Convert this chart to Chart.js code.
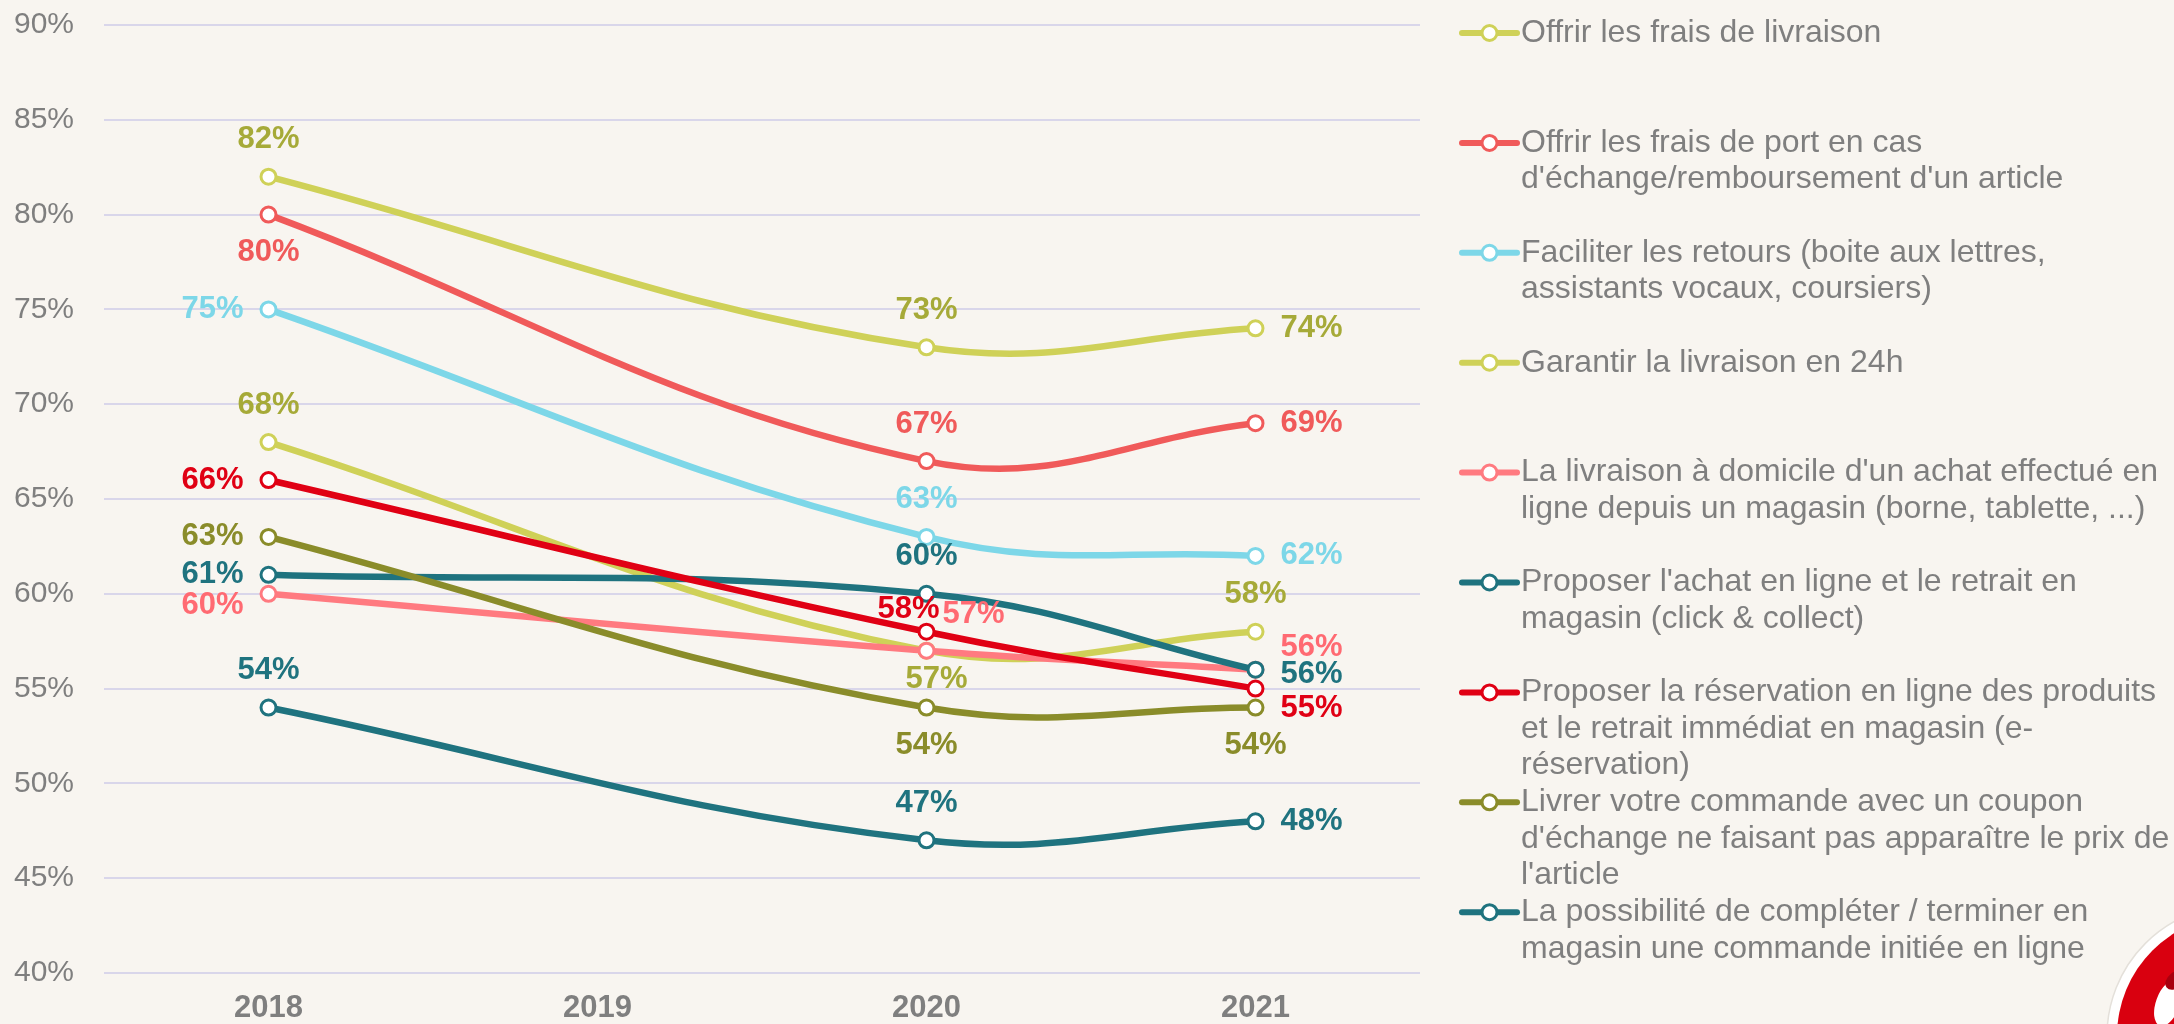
<!DOCTYPE html>
<html>
<head>
<meta charset="utf-8">
<script src="https://cdn.jsdelivr.net/npm/chart.js@4.4.0/dist/chart.umd.min.js"></script>
<style>
html,body{margin:0;padding:0;background:#F8F5F0;}
canvas{display:block;}
</style>
</head>
<body>
<canvas id="c" width="2174" height="1024"></canvas>
<script>
// ---------- DATA ----------
const years = ['2018', '2019', '2020', '2021'];
const yTickValues = [40, 45, 50, 55, 60, 65, 70, 75, 80, 85, 90];

const offrirFraisLivraison   = [82, null, 73, 74];
const offrirFraisPort        = [80, null, 67, 69];
const faciliterRetours       = [75, null, 63, 62];
const garantirLivraison24h   = [68, null, 57, 58];
const livraisonDomicile      = [60, null, 57, 56];
const clickCollect           = [61, null, 60, 56];
const eReservation           = [66, null, 58, 55];
const couponEchange          = [63, null, 54, 54];
const completerMagasin       = [54, null, 47, 48];

const seriesNames = [
  ["Offrir les frais de livraison"],
  ["Offrir les frais de port en cas", "d'échange/remboursement d'un article"],
  ["Faciliter les retours (boite aux lettres,", "assistants vocaux, coursiers)"],
  ["Garantir la livraison en 24h"],
  ["La livraison à domicile d'un achat effectué en", "ligne depuis un magasin (borne, tablette, ...)"],
  ["Proposer l'achat en ligne et le retrait en", "magasin (click & collect)"],
  ["Proposer la réservation en ligne des produits", "et le retrait immédiat en magasin (e-", "réservation)"],
  ["Livrer votre commande avec un coupon", "d'échange ne faisant pas apparaître le prix de", "l'article"],
  ["La possibilité de compléter / terminer en", "magasin une commande initiée en ligne"]
];

const seriesValues = [
  offrirFraisLivraison, offrirFraisPort, faciliterRetours, garantirLivraison24h,
  livraisonDomicile, clickCollect, eReservation, couponEchange, completerMagasin
];

// ---------- STYLE ----------
const lineColors = ['#CFD158', '#F05A5A', '#7DD7E8', '#CFD158', '#FF7A80', '#1F737F', '#E00014', '#8A8C2A', '#1F737F'];
const labelColors = ['#A6AA38', '#F05A5A', '#7DD7E8', '#A6AA38', '#FF6A72', '#1F737F', '#E00014', '#8A8C2A', '#1F737F'];
// label placement per point (T=above, B=below, L=left, R=right, or custom)
const labelPlacement = [
  ['T', null, 'T', 'R'],
  ['B', null, 'T', 'R'],
  ['L', null, 'T', 'R'],
  ['T', null, {a: 'center', dx: 10, dy: 29}, 'T'],
  [{a: 'right', dx: -25, dy: 12}, null, {a: 'center', dx: 47, dy: -36}, {a: 'left', dx: 25, dy: -22}],
  ['L', null, 'T', {a: 'left', dx: 25, dy: 5}],
  ['L', null, {a: 'center', dx: -18, dy: -22}, {a: 'left', dx: 25, dy: 20}],
  ['L', null, 'B', 'B'],
  ['T', null, 'T', 'R']
];
const FONT = "'Liberation Sans', Arial, sans-serif";
const GRAY = '#7F7F7F';

const placementMap = {
  T: {a: 'center', dx: 0, dy: -37},
  B: {a: 'center', dx: 0, dy: 38},
  L: {a: 'right', dx: -25, dy: 0},
  R: {a: 'left', dx: 25, dy: 0}
};

const bgPlugin = {
  id: 'bg',
  beforeDraw(chart) {
    const c = chart.ctx;
    c.save();
    c.fillStyle = '#F8F5F0';
    c.fillRect(0, 0, chart.width, chart.height);
    c.restore();
  }
};

const labelPlugin = {
  id: 'valueLabels',
  afterDatasetsDraw(chart) {
    const c = chart.ctx;
    c.save();
    c.font = 'bold 31px ' + FONT;
    c.textBaseline = 'middle';
    chart.data.datasets.forEach((ds, i) => {
      const meta = chart.getDatasetMeta(i);
      meta.data.forEach((pt, j) => {
        const v = ds.data[j];
        if (v === null || v === undefined) return;
        let p = labelPlacement[i][j];
        if (!p) return;
        if (typeof p === 'string') p = placementMap[p];
        c.fillStyle = labelColors[i];
        c.textAlign = p.a;
        c.fillText(v + '%', pt.x + p.dx, pt.y + p.dy);
      });
    });
    c.restore();
  }
};

const legendPlugin = {
  id: 'sideLegend',
  afterDraw(chart) {
    const c = chart.ctx;
    const x0 = chart.chartArea.right + 42;
    const startY = 33, step = 109.9, lineH = 36.5;
    c.save();
    seriesNames.forEach((lines, i) => {
      const y = startY + i * step;
      c.strokeStyle = lineColors[i];
      c.lineWidth = 6;
      c.lineCap = 'round';
      c.beginPath();
      c.moveTo(x0, y);
      c.lineTo(x0 + 55, y);
      c.stroke();
      c.beginPath();
      c.arc(x0 + 27.5, y, 7.5, 0, Math.PI * 2);
      c.fillStyle = '#FFFFFF';
      c.fill();
      c.lineWidth = 3;
      c.stroke();
      c.fillStyle = GRAY;
      c.font = '32px ' + FONT;
      c.textAlign = 'left';
      c.textBaseline = 'middle';
      lines.forEach((t, k) => c.fillText(t, x0 + 59, y + k * lineH));
    });
    // logo (bottom-right)
    const cx = 2238, cy = 1036;
    c.beginPath(); c.arc(cx, cy, 131, 0, Math.PI * 2);
    c.fillStyle = '#FFFFFF'; c.fill();
    c.strokeStyle = '#E4E0DA'; c.lineWidth = 1.5; c.stroke();
    c.beginPath(); c.arc(cx, cy, 121, 0, Math.PI * 2);
    c.fillStyle = '#D9000F'; c.fill();
    c.beginPath();
    c.ellipse(2168, 1003, 12, 24, 0.35, 0, Math.PI * 2);
    c.fillStyle = '#FFFFFF'; c.fill();
    c.beginPath();
    c.ellipse(2176, 980, 8, 12, 0.9, 0, Math.PI * 2);
    c.fillStyle = '#A8000E'; c.fill();
    c.restore();
  }
};

new Chart(document.getElementById('c'), {
  type: 'line',
  data: {
    labels: years,
    datasets: seriesValues.map((vals, i) => ({
      label: seriesNames[i].join(' '),
      data: vals,
      borderColor: lineColors[i],
      backgroundColor: '#FFFFFF',
      borderWidth: 6.5,
      pointRadius: 7.5,
      pointHoverRadius: 7.5,
      pointBorderWidth: 3,
      pointBackgroundColor: '#FFFFFF',
      pointBorderColor: lineColors[i],
      tension: 0.4,
      spanGaps: true,
      fill: false,
      order: -i
    }))
  },
  options: {
    responsive: false,
    animation: false,
    devicePixelRatio: 1,
    layout: {padding: {left: 14, right: 754, top: 25, bottom: 0}},
    plugins: {legend: {display: false}, tooltip: {enabled: false}},
    scales: {
      x: {
        type: 'category',
        offset: true,
        afterFit: (s) => { s.height = 51; },
        grid: {display: false, drawTicks: false},
        border: {display: false},
        ticks: {color: GRAY, padding: 20, font: {family: FONT, size: 31, weight: 'bold', lineHeight: 1.0}}
      },
      y: {
        min: 40,
        max: 90,
        afterFit: (s) => { s.width = 90; },
        afterBuildTicks: (s) => { s.ticks = yTickValues.map(v => ({value: v})); },
        grid: {color: '#D9D6EA', lineWidth: 2, drawTicks: false},
        border: {display: false},
        ticks: {color: GRAY, padding: 0, crossAlign: 'far', font: {family: FONT, size: 30}, callback: (v) => v + '%'}
      }
    }
  },
  plugins: [bgPlugin, labelPlugin, legendPlugin]
});
</script>
</body>
</html>
